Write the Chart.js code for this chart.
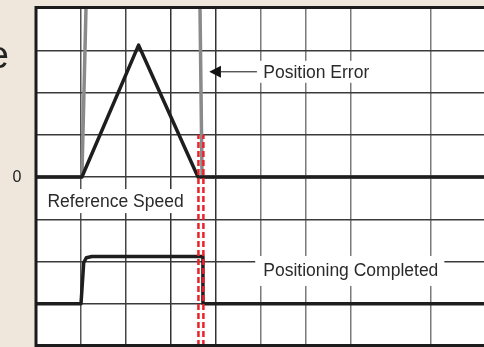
<!DOCTYPE html>
<html><head><meta charset="utf-8">
<script src="https://cdn.jsdelivr.net/npm/chart.js@4/dist/chart.umd.min.js"></script>
<style>
html,body{margin:0;padding:0;background:#efe6dc;}
#wrap{width:484px;height:347px;position:relative;}
</style></head><body>
<div id="wrap"><canvas id="c" width="484" height="347"></canvas></div>
<script>
// ---- data (grid units) ----
const xGridTicks = [1, 2, 3, 4, 5, 6, 7, 8.78];
const yGridTicks = [1, 2, 3, 4, 5, 6, 7];
const refSpeedX = [0, 1.02, 2.28, 3.6, 9.96];
const refSpeedY = [4, 4, 7.12, 4, 4];
const posErrorX = [0, 1.02, 1.12, 3.64, 3.69, 9.96];
const posErrorY = [4, 4, 8.4, 8.4, 4, 4];
const posDoneX = [0, 1.0, 1.06, 1.12, 1.24, 3.71, 3.71, 9.96];
const posDoneY = [1, 1, 1.97, 2.09, 2.12, 2.12, 1, 1];
const markerX = [3.61, 3.72];
const markerY = [0, 5];
const labelTexts = ['Reference Speed', 'Position Error', 'Positioning Completed'];
const zeroLabel = '0';
const cutText = 'e';

const pts = (xs, ys) => xs.map((x, i) => ({x: x, y: ys[i]}));

const FONT = '"Liberation Sans", Arial, sans-serif';

const deco = {
  id: 'deco',
  beforeDraw(chart) {
    const {ctx, chartArea: a} = chart;
    ctx.save();
    ctx.fillStyle = '#ffffff';
    ctx.fillRect(a.left, a.top, a.right - a.left, a.bottom - a.top);
    ctx.restore();
  },
  beforeDatasetsDraw(chart) {
    const {ctx, scales: {x, y}} = chart;
    ctx.save();
    ctx.font = '17.5px ' + FONT;
    ctx.textBaseline = 'middle';
    ctx.textAlign = 'left';
    const lp = [[0.255, 3.43, 5, 5, 12, 12], [5.05, 6.49, 5, 4, 11, 11], [5.05, 1.80, 8, 6, 14, 16]];
    lp.forEach((p, i) => {
      const px = x.getPixelForValue(p[0]), py = y.getPixelForValue(p[1]);
      const w = ctx.measureText(labelTexts[i]).width;
      ctx.fillStyle = '#ffffff';
      ctx.fillRect(px - p[2], py - p[4], w + p[2] + p[3], p[4] + p[5]);
      ctx.fillStyle = '#2a2a2a';
      ctx.fillText(labelTexts[i], px, py + 1);
    });
    const ay = y.getPixelForValue(6.49);
    const tip = x.getPixelForValue(3.85), base = x.getPixelForValue(4.11), tail = x.getPixelForValue(4.91);
    ctx.strokeStyle = '#111';
    ctx.lineWidth = 1;
    ctx.beginPath(); ctx.moveTo(base, ay); ctx.lineTo(tail, ay); ctx.stroke();
    ctx.fillStyle = '#111';
    ctx.beginPath(); ctx.moveTo(tip, ay); ctx.lineTo(base, ay - 6); ctx.lineTo(base, ay + 6); ctx.closePath(); ctx.fill();
    ctx.restore();
  },
  afterDatasetsDraw(chart) {
    const {ctx, chartArea: a, scales: {y}} = chart;
    ctx.save();
    ctx.strokeStyle = '#1c1c1c';
    ctx.lineWidth = 3;
    ctx.beginPath();
    ctx.moveTo(a.right + 2, a.top - 0.5);
    ctx.lineTo(a.left, a.top - 0.5);
    ctx.lineTo(a.left, a.bottom - 0.5);
    ctx.lineTo(a.right + 2, a.bottom - 0.5);
    ctx.stroke();
    ctx.fillStyle = '#222';
    ctx.font = '16px ' + FONT;
    ctx.textAlign = 'center';
    ctx.textBaseline = 'middle';
    ctx.fillText(zeroLabel, 17, y.getPixelForValue(4) + 0.5);
    ctx.font = '38px ' + FONT;
    ctx.textAlign = 'right';
    ctx.fillText(cutText, 9, 58);
    ctx.restore();
  }
};

const xGridColors = ['#555555', '#444444', '#333333', '#333333', '#7a7a7a', '#7a7a7a', '#7a7a7a', '#7a7a7a'];

new Chart(document.getElementById('c'), {
  type: 'line',
  data: {
    datasets: [
      {data: pts([markerX[0], markerX[0]], markerY), borderColor: '#e8232b', borderWidth: 2.5, borderDash: [6, 3]},
      {data: pts([markerX[1], markerX[1]], markerY), borderColor: '#e8232b', borderWidth: 2.5, borderDash: [6, 3]},
      {data: pts(refSpeedX, refSpeedY), borderColor: '#1e1e1e', borderWidth: 3.5},
      {data: pts(posDoneX, posDoneY), borderColor: '#1e1e1e', borderWidth: 3.5},
      {data: pts(posErrorX, posErrorY), borderColor: '#8a8a8a', borderWidth: 3.5}
    ]
  },
  options: {
    responsive: false,
    animation: false,
    events: [],
    layout: {padding: {left: 36, top: 8, right: 0, bottom: 1}},
    elements: {point: {radius: 0, hoverRadius: 0}, line: {tension: 0, borderJoinStyle: 'round', borderCapStyle: 'butt'}},
    plugins: {legend: {display: false}, tooltip: {enabled: false}},
    scales: {
      x: {
        type: 'linear', min: 0, max: 9.956,
        afterBuildTicks: s => { s.ticks = xGridTicks.map(v => ({value: v})); },
        ticks: {display: false},
        grid: {drawTicks: false, color: ctx => xGridColors[ctx.index] || '#666', lineWidth: 1.5},
        border: {display: false}
      },
      y: {
        type: 'linear', min: 0, max: 8,
        afterBuildTicks: s => { s.ticks = yGridTicks.map(v => ({value: v})); },
        ticks: {display: false},
        grid: {drawTicks: false, color: '#3a3a3a', lineWidth: 1.5},
        border: {display: false}
      }
    }
  },
  plugins: [deco]
});
</script>
</body></html>
